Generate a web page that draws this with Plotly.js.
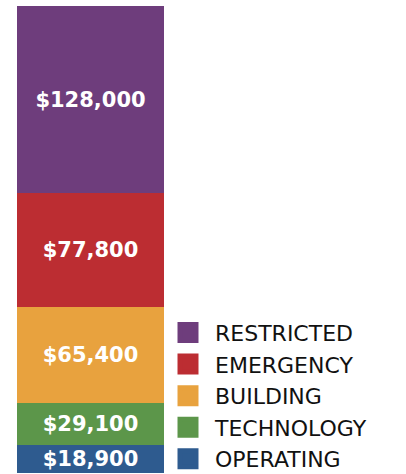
<!DOCTYPE html>
<html>
<head>
<meta charset="utf-8">
<script src="https://cdn.plot.ly/plotly-3.0.1.min.js"></script>
<style>html,body{margin:0;padding:0;background:#fff;}#chart{width:406px;height:474px;}</style>
</head>
<body>
<div id="chart"></div>
<script>
// Data (bottom of stack first)
const categories = ["OPERATING", "TECHNOLOGY", "BUILDING", "EMERGENCY", "RESTRICTED"];
const values = [18900, 29100, 65400, 77800, 128000];
const colors = ["#2e5b8f", "#5c964a", "#e8a23e", "#bc2d32", "#6e3d7c"];

const total = values.reduce((a, b) => a + b, 0);
const fmt = v => "$" + v.toLocaleString("en-US");

const traces = [];
categories.forEach((name, i) => {
  traces.push({
    type: "bar",
    x: [0],
    y: [values[i]],
    name: name,
    width: 1,
    marker: {color: colors[i], line: {width: 0}},
    text: [fmt(values[i])],
    textposition: "inside",
    insidetextanchor: "middle",
    textangle: 0,
    constraintext: "none",
    textfont: {family: "DejaVu Sans", size: 21, color: "#ffffff", weight: "bold"},
    hoverinfo: "skip",
    showlegend: false
  });
});
// legend entries (square swatches)
categories.forEach((name, i) => {
  traces.push({
    type: "scatter",
    mode: "markers",
    x: [null],
    y: [null],
    name: name,
    marker: {symbol: "square", size: 16, color: colors[i], line: {width: 5, color: colors[i]}},
    hoverinfo: "skip",
    showlegend: true
  });
});

const layout = {
  width: 406,
  height: 474,
  margin: {l: 0, r: 0, t: 6, b: 1, pad: 0, autoexpand: false},
  paper_bgcolor: "#ffffff",
  plot_bgcolor: "#ffffff",
  barmode: "stack",
  bargap: 0,
  showlegend: true,
  xaxis: {domain: [17 / 406, 164 / 406], range: [-0.5, 0.5], visible: false, fixedrange: true},
  yaxis: {range: [0, total], visible: false, fixedrange: true},
  legend: {
    x: 161 / 406,
    xanchor: "left",
    y: 0.3455,
    yanchor: "top",
    yref: "paper",
    traceorder: "reversed",
    itemwidth: 44,
    bgcolor: "rgba(0,0,0,0)",
    font: {family: "DejaVu Sans", size: 22, color: "#111111"}
  }
};

Plotly.newPlot("chart", traces, layout, {displayModeBar: false, staticPlot: true});
</script>
</body>
</html>
